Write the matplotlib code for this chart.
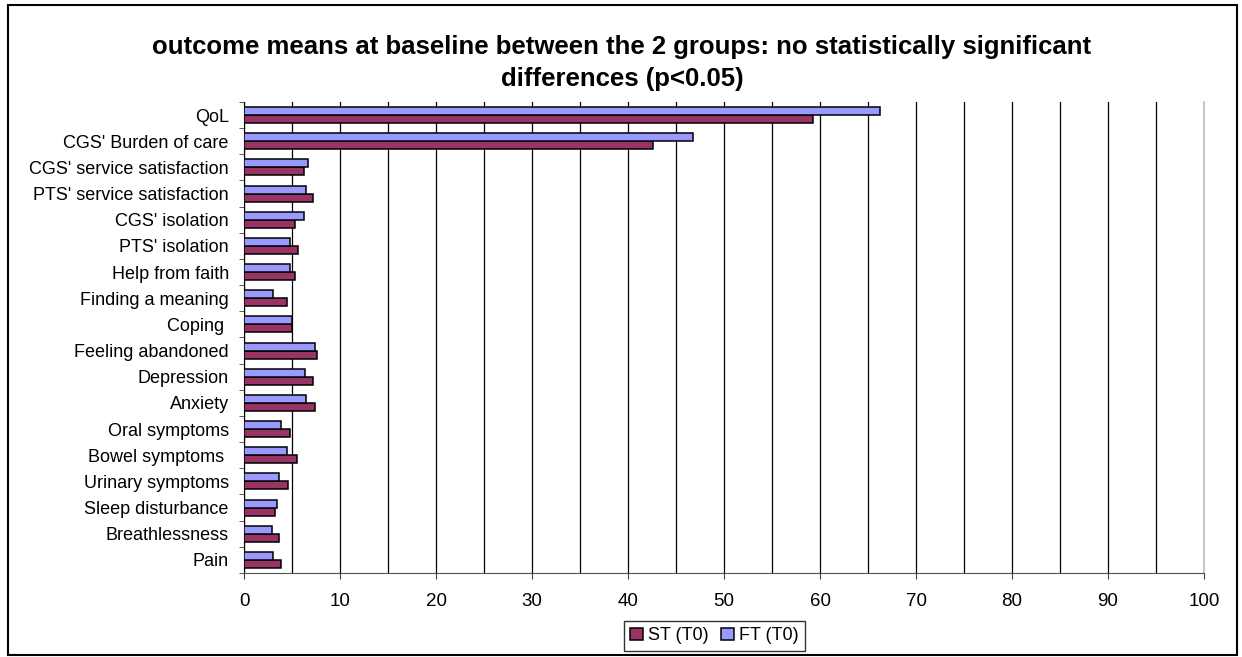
import numpy as np
import matplotlib
matplotlib.use("Agg")
import matplotlib.pyplot as plt
from matplotlib.patches import Rectangle

plt.rcParams['font.family'] = ['Liberation Sans', 'DejaVu Sans']

# categories top to bottom, as in the chart
categories = ["QoL", "CGS' Burden of care", "CGS' service satisfaction",
              "PTS' service satisfaction", "CGS' isolation", "PTS' isolation",
              "Help from faith", "Finding a meaning", "Coping ", "Feeling abandoned",
              "Depression", "Anxiety", "Oral symptoms", "Bowel symptoms ",
              "Urinary symptoms", "Sleep disturbance", "Breathlessness", "Pain"]

st_t0 = [59.3, 42.6, 6.2, 7.2, 5.3, 5.65, 5.3, 4.45, 5.0, 7.6,
         7.2, 7.4, 4.8, 5.5, 4.6, 3.2, 3.6, 3.8]
ft_t0 = [66.2, 46.8, 6.7, 6.5, 6.2, 4.8, 4.8, 3.05, 5.0, 7.35,
         6.35, 6.5, 3.8, 4.45, 3.6, 3.4, 2.9, 3.05]

title = "outcome means at baseline between the 2 groups: no statistically significant\ndifferences (p<0.05)"

fig = plt.figure(figsize=(12.42, 6.57), dpi=100)
ax = fig.add_axes([0.1965, 0.1279, 0.7729, 0.7169])

n = len(categories)
y = np.arange(n)[::-1]
h = 0.305

ax.barh(y - h/2, st_t0, height=h, color='#993366', edgecolor='black', linewidth=1.1,
        label='ST (T0)', zorder=3)
ax.barh(y + h/2, ft_t0, height=h, color='#9999FF', edgecolor='black', linewidth=1.1,
        label='FT (T0)', zorder=3)

ax.set_xlim(0, 100)
ax.set_ylim(-0.5, n - 0.5)

ax.set_xticks(np.arange(0, 101, 10))
ax.set_xticks(np.arange(5, 100, 10), minor=True)
ax.xaxis.grid(True, which='both', color='black', linewidth=0.9)
ax.set_axisbelow(True)
ax.tick_params(axis='x', which='major', length=4.5, color='#404040', labelsize=13.5, pad=10)
ax.tick_params(axis='x', which='minor', length=0)

ax.set_yticks(y)
ax.set_yticklabels(categories)
ax.set_yticks(np.arange(-0.5, n, 1), minor=True)
ax.tick_params(axis='y', which='major', length=0, labelsize=13, pad=11)
ax.tick_params(axis='y', which='minor', length=3.8, color='#404040')

ax.spines['top'].set_visible(False)
ax.spines['right'].set_color('#c0c0c0')
ax.spines['right'].set_linewidth(1.2)
ax.spines['left'].set_color('black')
ax.spines['bottom'].set_color('#505050')

fig.text(0.5008, 0.9035, title, ha='center', va='center', fontsize=18.5,
         fontweight='bold', linespacing=1.43)

handles, labels = ax.get_legend_handles_labels()
leg = fig.legend(handles, labels, loc='upper center', bbox_to_anchor=(0.5753, 0.0548),
                 ncol=2, fontsize=13, frameon=True, fancybox=False, edgecolor='black',
                 handlelength=0.7, handleheight=0.7, handletextpad=0.3,
                 columnspacing=0.7, borderpad=0.35, borderaxespad=0)
leg.get_frame().set_linewidth(1.0)

fig.patches.append(Rectangle((8/1242, 2/657), 1229/1242, 650/657, transform=fig.transFigure,
                             fill=False, edgecolor='black', linewidth=1.5))

fig.savefig('out.png', dpi=100)
